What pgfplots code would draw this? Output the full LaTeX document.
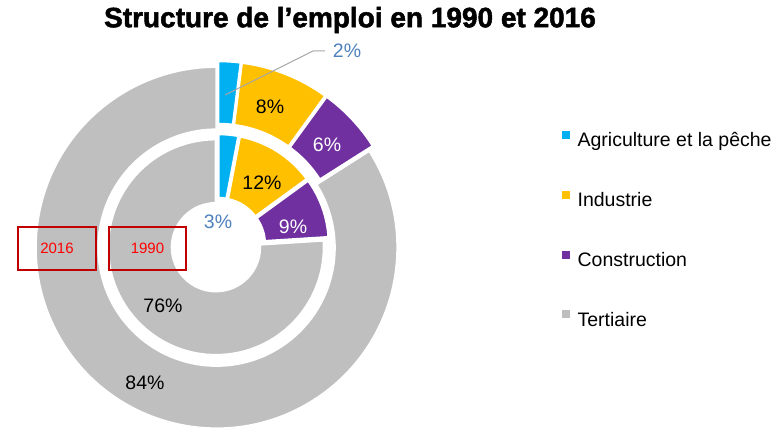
\documentclass[border=0pt]{standalone}
\usepackage{pgfplots}
\pgfplotsset{compat=1.18}
\usepackage{pgfplotstable}
\usepackage{fontspec}
\setmainfont{Liberation Sans}
\newfontfamily\titlefont{Liberation Sans}[BoldFeatures={FakeBold=1.8}]

\definecolor{cAgri}{HTML}{00B0F0}
\definecolor{cInd}{HTML}{FFC000}
\definecolor{cCon}{HTML}{7030A0}
\definecolor{cTer}{HTML}{BFBFBF}
\definecolor{lblue}{HTML}{4F81BD}
\definecolor{boxred}{HTML}{C00000}
\definecolor{leader}{HTML}{A6A6A6}
\colorlet{col0}{cAgri}
\colorlet{col1}{cInd}
\colorlet{col2}{cCon}
\colorlet{col3}{cTer}

\newcommand\lbl{\fontsize{19.5}{23}\selectfont}

% part of employment (%), 2016 = outer ring, 1990 = inner ring
\pgfplotstableread{
id v2016 v1990
0  2  3
1  8  12
2  6  9
3  84 76
}\emploi

% #1 column, #2 inner radius, #3 outer radius, #4 explode (pt)
\newcommand{\ring}[4]{%
  \gdef\cum{0}%
  \foreach \k in {0,...,3}{%
    \pgfplotstablegetelem{\k}{#1}\of\emploi
    \pgfmathsetmacro\aone{90-3.6*\cum}%
    \pgfmathsetmacro\atwo{90-3.6*(\cum+\pgfplotsretval)}%
    \pgfmathsetmacro\amid{(\aone+\atwo)/2}%
    \pgfmathsetmacro\newcum{\cum+\pgfplotsretval}%
    \xdef\cum{\newcum}%
    \filldraw[fill=col\k, draw=white, line width=2.5pt,
      shift={(axis cs:218,184)}, shift={(\amid:#4pt)}]
      (\aone:#3pt) arc[start angle=\aone, end angle=\atwo, radius=#3pt]
      -- (\atwo:#2pt) arc[start angle=\atwo, end angle=\aone, radius=#2pt]
      -- cycle;
  }%
}

\begin{document}
\begin{tikzpicture}
\begin{axis}[
  width=774pt, height=429pt, scale only axis,
  xmin=0, xmax=774, ymin=0, ymax=429,
  hide axis, clip=false,
  legend image code/.code={\fill[#1] (0pt,3.5pt) rectangle (7pt,10.5pt);},
  legend cell align=left,
  legend style={at={(axis cs:562,298)}, anchor=north west, draw=none, fill=none,
    inner sep=0pt, font=\lbl, row sep=40pt, column sep=8pt,
    nodes={inner sep=0pt, text height=14pt, text depth=4pt}},
]
\pgfplotsextra{%
  \ring{v2016}{118}{181}{3}%
  \ring{v1990}{44}{108}{3}%
}
\addlegendimage{cAgri}\addlegendentry{Agriculture et la pêche}
\addlegendimage{cInd}\addlegendentry{Industrie}
\addlegendimage{cCon}\addlegendentry{Construction}
\addlegendimage{cTer}\addlegendentry{Tertiaire}

% data labels
\draw[leader, line width=1pt] (axis cs:225,334) -- (axis cs:313,378) -- (axis cs:325,378);
\node[font=\lbl, text=lblue] at (axis cs:347,378) {2\%};
\node[font=\lbl] at (axis cs:270,322) {8\%};
\node[font=\lbl, text=white] at (axis cs:327,284) {6\%};
\node[font=\lbl] at (axis cs:145,46) {84\%};
\node[font=\lbl, text=lblue] at (axis cs:218,207) {3\%};
\node[font=\lbl] at (axis cs:262,246) {12\%};
\node[font=\lbl, text=white] at (axis cs:293,202) {9\%};
\node[font=\lbl] at (axis cs:163,123) {76\%};

% year boxes
\draw[boxred, line width=1.3pt] (axis cs:18,202) rectangle (axis cs:96,159);
\node[text=red, font=\fontsize{15}{18}\selectfont] at (axis cs:57,180.5) {2016};
\draw[boxred, line width=1.3pt] (axis cs:109,202) rectangle (axis cs:186,159);
\node[text=red, font=\fontsize{15}{18}\selectfont] at (axis cs:147.5,180.5) {1990};

% title
\node[font=\titlefont\bfseries\fontsize{28}{32}\selectfont] at (axis cs:350,409) {Structure de l’emploi en 1990 et 2016};
\end{axis}
\pgfresetboundingbox
\path (0,0) rectangle (774pt,429pt);
\end{tikzpicture}
\end{document}
